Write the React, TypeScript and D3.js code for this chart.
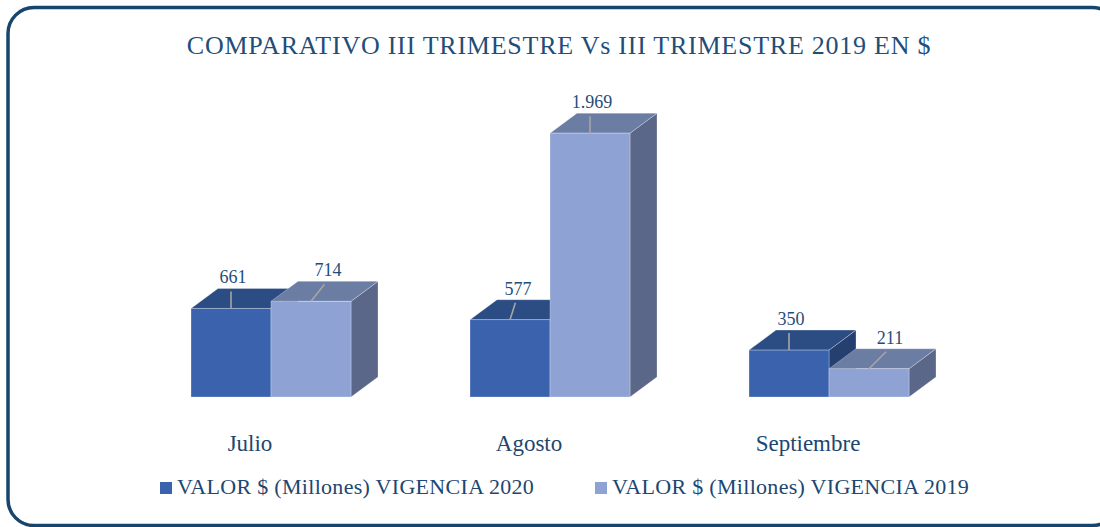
import React, { useEffect, useRef } from 'react';
import * as d3 from 'd3';

const categories = ['Julio', 'Agosto', 'Septiembre'];
const seriesNames = ['VALOR $ (Millones) VIGENCIA 2020', 'VALOR $ (Millones) VIGENCIA 2019'];
const values2020 = [661, 577, 350];
const values2019 = [714, 1969, 211];
const valueLabels2020 = ['661', '577', '350'];
const valueLabels2019 = ['714', '1.969', '211'];

const W = 1100;
const H = 527;
const FONT = '"Liberation Serif", "DejaVu Serif", serif';
const NAVY = '#1f4e79';

// colours per series: front, top, side
const palette = [
  { front: '#3a62ad', top: '#2c4c84', side: '#253f6f' },
  { front: '#8fa2d4', top: '#6b7da3', side: '#5a6788' },
];
// leader line lean per point (layout only)
const labelLean = [
  [0, 6, 0],
  [15, 0, 19],
];

const App: React.FC = () => {
  const svgRef = useRef<SVGSVGElement>(null);

  useEffect(() => {
    if (!svgRef.current) return;
    const svg = d3.select(svgRef.current);
    svg.selectAll('*').remove();

    // frame
    svg
      .append('rect')
      .attr('x', 8)
      .attr('y', 7.5)
      .attr('width', 1110)
      .attr('height', 518)
      .attr('rx', 26)
      .attr('fill', 'white')
      .attr('stroke', '#17456b')
      .attr('stroke-width', 3.5);

    svg
      .append('text')
      .attr('x', 559)
      .attr('y', 54)
      .attr('text-anchor', 'middle')
      .attr('font-family', FONT)
      .attr('font-size', 26)
      .attr('letter-spacing', 0.75)
      .attr('fill', NAVY)
      .text('COMPARATIVO III TRIMESTRE Vs III TRIMESTRE 2019 EN $');

    const x = d3.scaleBand<string>().domain(categories).range([131.5, 968.5]).paddingInner(119 / 279).paddingOuter(119 / 558);
    const xs = d3.scaleBand<number>().domain([0, 1]).range([0, x.bandwidth()]);
    const y = d3.scaleLinear().domain([0, 2500]).range([397, 62]);
    const dx = 27;
    const dy = 20;

    const series = [values2020, values2019];
    const labels = [valueLabels2020, valueLabels2019];

    categories.forEach((cat, ci) => {
      const g = svg.append('g');
      series.forEach((vals, si) => {
        const x0 = (x(cat) as number) + (xs(si) as number);
        const w = xs.bandwidth();
        const top = y(vals[ci]);
        const base = y(0);
        const c = palette[si];
        const pts = (p: number[][]) => p.map((q) => q.join(',')).join(' ');
        g.append('polygon')
          .attr('points', pts([[x0 + w, top], [x0 + w + dx, top - dy], [x0 + w + dx, base - dy], [x0 + w, base]]))
          .attr('fill', c.side)
          .attr('stroke', 'rgba(255,255,255,0.35)')
          .attr('stroke-width', 0.8);
        g.append('polygon')
          .attr('points', pts([[x0, top], [x0 + dx, top - dy], [x0 + w + dx, top - dy], [x0 + w, top]]))
          .attr('fill', c.top)
          .attr('stroke', 'rgba(255,255,255,0.35)')
          .attr('stroke-width', 0.8);
        g.append('rect')
          .attr('x', x0)
          .attr('y', top)
          .attr('width', w)
          .attr('height', base - top)
          .attr('fill', c.front)
          .attr('stroke', 'rgba(255,255,255,0.35)')
          .attr('stroke-width', 0.8);
      });
    });

    // data labels with leader lines
    categories.forEach((cat, ci) => {
      series.forEach((vals, si) => {
        const cx = (x(cat) as number) + (xs(si) as number) + xs.bandwidth() / 2;
        const top = y(vals[ci]);
        const lean = labelLean[si][ci];
        svg
          .append('line')
          .attr('x1', cx)
          .attr('y1', top)
          .attr('x2', cx + lean * 0.9)
          .attr('y2', top - 17)
          .attr('stroke', '#a6a6a6')
          .attr('stroke-width', 1.6);
        svg
          .append('text')
          .attr('x', cx + lean + 2)
          .attr('y', top - 25)
          .attr('text-anchor', 'middle')
          .attr('font-family', FONT)
          .attr('font-size', 18)
          .attr('fill', NAVY)
          .text(labels[si][ci]);
      });
    });

    // category labels
    svg
      .append('g')
      .selectAll('text')
      .data(categories)
      .enter()
      .append('text')
      .attr('x', (d) => (x(d) as number) + x.bandwidth() / 2 - 21)
      .attr('y', 451)
      .attr('text-anchor', 'middle')
      .attr('font-family', FONT)
      .attr('font-size', 23)
      .attr('fill', '#1d4670')
      .text((d) => d);

    // legend
    const legendX = [160, 595];
    const legend = svg
      .append('g')
      .selectAll('g')
      .data(seriesNames)
      .enter()
      .append('g')
      .attr('transform', (d, i) => `translate(${legendX[i]}, 482)`);
    legend
      .append('rect')
      .attr('width', 12)
      .attr('height', 12)
      .attr('fill', (d, i) => palette[i].front);
    legend
      .append('text')
      .attr('x', 17)
      .attr('y', 12)
      .attr('font-family', FONT)
      .attr('font-size', 22)
      .attr('letter-spacing', 0.3)
      .attr('fill', '#1d4670')
      .text((d) => d);
  }, []);

  return <svg ref={svgRef} width={W} height={H} style={{ position: 'absolute', left: 0, top: 0 }} />;
};

export default App;
